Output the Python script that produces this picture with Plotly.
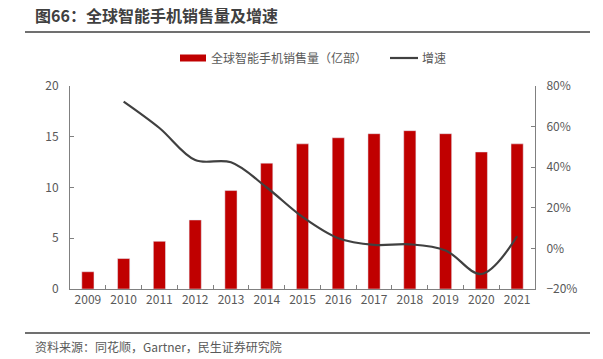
import plotly.graph_objects as go

years = ["2009", "2010", "2011", "2012", "2013", "2014", "2015",
         "2016", "2017", "2018", "2019", "2020", "2021"]
sales = [1.7, 3.0, 4.7, 6.8, 9.7, 12.4, 14.3, 14.9, 15.3, 15.6, 15.3, 13.5, 14.3]
growth = [None, 72.3, 59.3, 43.5, 42.4, 30.0, 15.5, 5.0, 1.7, 2.0, -1.0, -12.6, 6.0]

bar_name = "全球智能手机销售量（亿部）"
line_name = "增速"
title_text = "图66：全球智能手机销售量及增速"
source_text = "资料来源：同花顺，Gartner，民生证券研究院"

RED = "#C00000"
LINE = "#404040"
AX = "#808080"
TXT = "#595959"
FONT = "Noto Sans CJK SC"

fig = go.Figure()
fig.add_trace(go.Bar(x=years, y=sales, name=bar_name, marker_color=RED,
                     width=0.34, showlegend=False))
fig.add_trace(go.Scatter(x=years, y=growth, name=line_name, yaxis="y2",
                         mode="lines", line=dict(color=LINE, width=2.2, shape="spline", smoothing=1.0),
                         connectgaps=False, showlegend=False))

L, R, T, B = 70, 68, 86, 70
W, H = 603, 359
pw, ph = W - L - R, H - T - B

def px(x):
    return (x - L) / pw

def py(y):
    return (H - B - y) / ph

fig.update_layout(
    width=W, height=H,
    margin=dict(l=L, r=R, t=T, b=B),
    paper_bgcolor="white", plot_bgcolor="white",
    font=dict(family=FONT, size=12, color=TXT),
    bargap=0.66,
    xaxis=dict(type="category", showline=True, linecolor=AX, linewidth=1,
               ticks="inside", ticklen=4, tickcolor=AX, tickson="boundaries",
               showgrid=False, tickfont=dict(size=12, color=TXT), tickangle=0,
               range=[-0.5, 12.5]),
    yaxis=dict(range=[0, 20], dtick=5, showline=True, linecolor=AX, linewidth=1,
               ticks="inside", ticklen=4, tickcolor=AX, showgrid=False, zeroline=False,
               tickfont=dict(size=12, color=TXT), ticklabelstandoff=8),
    yaxis2=dict(range=[-20, 80], dtick=20, overlaying="y", side="right",
                showline=True, linecolor=AX, linewidth=1, ticks="inside", ticklen=4,
                tickcolor=AX, showgrid=False, zeroline=False, ticksuffix="%",
                tickfont=dict(size=12, color=TXT), ticklabelstandoff=8),
)

shapes = [
    dict(type="line", xref="paper", yref="paper", x0=px(25), x1=px(590), y0=py(333), y1=py(333),
         line=dict(color="#404040", width=1.5)),
    dict(type="rect", xref="paper", yref="paper", x0=px(180), x1=px(206), y0=py(54.5), y1=py(61.5),
         fillcolor=RED, line=dict(width=0)),
    dict(type="line", xref="paper", yref="paper", x0=px(390), x1=px(418), y0=py(58), y1=py(58),
         line=dict(color=LINE, width=2.2)),
    dict(type="line", xref="paper", yref="paper", x0=px(25), x1=px(590), y0=py(32), y1=py(32),
         line=dict(color="#404040", width=1.5)),
]
fig.update_layout(shapes=shapes)

ann = [
    dict(text="<b>" + title_text + "</b>", x=px(33), y=py(15), xanchor="left", yanchor="middle",
         font=dict(size=16, color="#404040", family=FONT)),
    dict(text=bar_name, x=px(209), y=py(58), xanchor="left", yanchor="middle",
         font=dict(size=12, color=TXT, family=FONT)),
    dict(text=line_name, x=px(420), y=py(58), xanchor="left", yanchor="middle",
         font=dict(size=12, color=TXT, family=FONT)),
    dict(text=source_text, x=px(33), y=py(346), xanchor="left", yanchor="middle",
         font=dict(size=12, color=TXT, family=FONT)),
]
for a in ann:
    a.update(xref="paper", yref="paper", showarrow=False)
fig.update_layout(annotations=ann)

fig.write_html("out.html", config={"displayModeBar": False},
               post_script="document.body.style.margin='0';document.body.style.overflow='hidden';")
